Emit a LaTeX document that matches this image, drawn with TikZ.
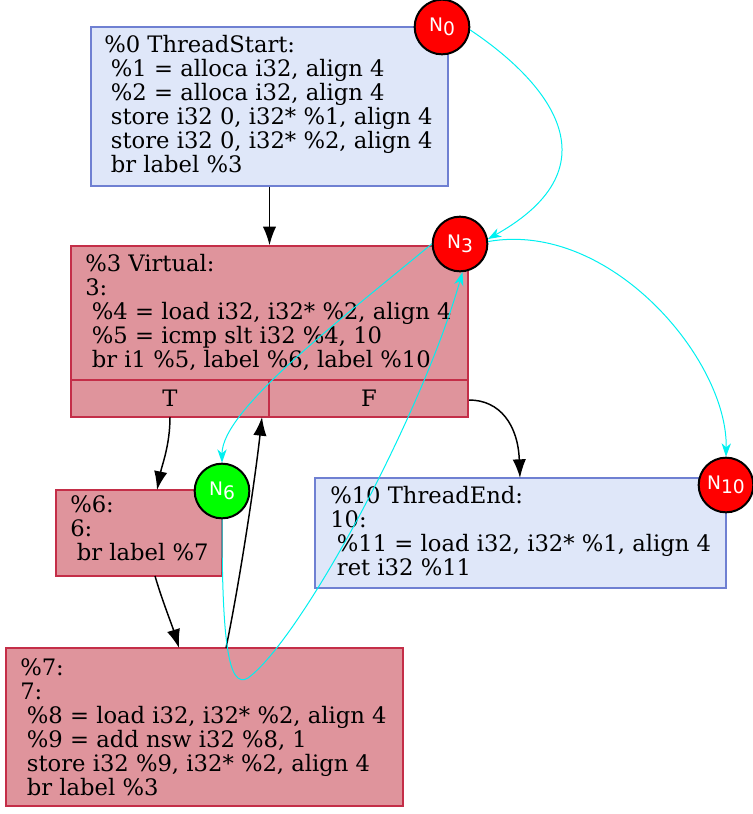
\documentclass[tikz,border=0pt]{standalone}
\usepackage{fontspec}
\setmainfont{DejaVu Serif}
\newfontfamily\circfont{DejaVu Sans}
\usetikzlibrary{arrows.meta,fit}
\definecolor{bluefill}{HTML}{DFE7F9}
\definecolor{blueline}{HTML}{6F80D2}
\definecolor{redfill}{HTML}{DF949C}
\definecolor{redline}{HTML}{C42E48}
\definecolor{cyanline}{HTML}{00F0F0}
\definecolor{nodered}{HTML}{FF0000}
\definecolor{nodegreen}{HTML}{00FF00}
\newcommand{\ind}{\hspace*{5pt}}
\newcommand{\nlab}[1]{N\raisebox{-3pt}{#1}}
\begin{document}
\begin{tikzpicture}[x=0.75pt,y=-0.75pt,
 bluebox/.style={draw=blueline, fill=bluefill, line width=1.1pt, inner sep=0pt},
 redbox/.style={draw=redline, fill=redfill, line width=1.1pt, inner sep=0pt},
 code/.style={anchor=west, align=left, inner sep=0pt, font=\fontsize{17}{18}\selectfont},
 marker/.style={circle, draw=black, line width=1.5pt, minimum size=41pt, inner sep=0pt, text=white, font=\circfont\fontsize{14}{14}\selectfont},
 flow/.style={draw=black, line width=1.1pt, -{Latex[length=14pt,width=10pt]}},
 link/.style={draw=cyanline, line width=0.75pt, -{Stealth[length=10pt,width=7pt,inset=3pt]}}]
\useasboundingbox (0,0) rectangle (753,814);

% boxes
\node[bluebox, fit={(91,27) (448,186)}] (b0) {};
\node[code] (t0) at (104,104) {\%0 ThreadStart:\\ \ind\%1 = alloca i32, align 4\\ \ind\%2 = alloca i32, align 4\\ \ind store i32 0, i32* \%1, align 4\\ \ind store i32 0, i32* \%2, align 4\\ \ind br label \%3};

\node[redbox, fit={(71,246) (468,417)}] (b3) {};
\coordinate (sepL) at (71,380);
\coordinate (sepR) at (468,380);
\coordinate (divT) at (269,380);
\coordinate (divB) at (269,417);
\draw[draw=redline, line width=1.1pt] (sepL) -- (sepR) (divT) -- (divB);
\node[code] (t3) at (85,312) {\%3 Virtual:\\3:\\ \ind\%4 = load i32, i32* \%2, align 4\\ \ind\%5 = icmp slt i32 \%4, 10\\ \ind br i1 \%5, label \%6, label \%10};
\node[inner sep=0pt, font=\fontsize{17}{18}\selectfont] (pT) at (170,398) {T};
\node[inner sep=0pt, font=\fontsize{17}{18}\selectfont] (pF) at (369,398) {F};

\node[redbox, fit={(56,490) (222,576)}] (b6) {};
\node[code] (t6) at (70,528) {\%6:\\6:\\ \ind br label \%7};

\node[bluebox, fit={(315,478) (726,588)}] (b10) {};
\node[code] (t10) at (330,531) {\%10 ThreadEnd:\\10:\\ \ind\%11 = load i32, i32* \%1, align 4\\ \ind ret i32 \%11};

\node[redbox, fit={(6,648) (403,806)}] (b7) {};
\node[code] (t7) at (20,727) {\%7:\\7:\\ \ind\%8 = load i32, i32* \%2, align 4\\ \ind\%9 = add nsw i32 \%8, 1\\ \ind store i32 \%9, i32* \%2, align 4\\ \ind br label \%3};

% markers
\node[marker, fill=nodered] (n0) at (442,27) {\nlab{0}};
\node[marker, fill=nodered] (n3) at (460,244) {\nlab{3}};
\node[marker, fill=nodegreen] (n6) at (222,491) {\nlab{6}};
\node[marker, fill=nodered] (n10) at (726,485) {\nlab{10}};

% black control flow
\coordinate (tOut) at (170,417);
\coordinate (fOut) at (469,400);
\coordinate (b6In) at (157,490);
\coordinate (b10In) at (520,478);
\coordinate (b6Out) at (155,576);
\coordinate (b7In) at (179,648);
\coordinate (b7Out) at (226,648);
\coordinate (b3In) at (262,417);
\draw[flow] (b0.south) -- (b3.north);
\draw[flow] (tOut) .. controls (170,445) and (162,465) .. (b6In);
\draw[flow] (fOut) .. controls (500,400) and (518,425) .. (b10In);
\draw[flow] (b6Out) .. controls (162,600) and (172,625) .. (b7In);
\draw[flow] (b7Out) .. controls (240,580) and (255,480) .. (b3In);

% cyan links
\coordinate (loopLow) at (248,678);
\draw[link] (n0.-6) .. controls (545,80) and (620,165) .. (n3.10);
\draw[link] (n3.5) .. controls (610,220) and (728,360) .. (n10.north);
\draw[link] (n3.180) .. controls (340,320) and (222,410) .. (n6.north);
\draw[link] (n6.south) .. controls (222,640) and (228,690) .. (loopLow) .. controls (300,640) and (420,420) .. (n3.-85);
\end{tikzpicture}
\end{document}
